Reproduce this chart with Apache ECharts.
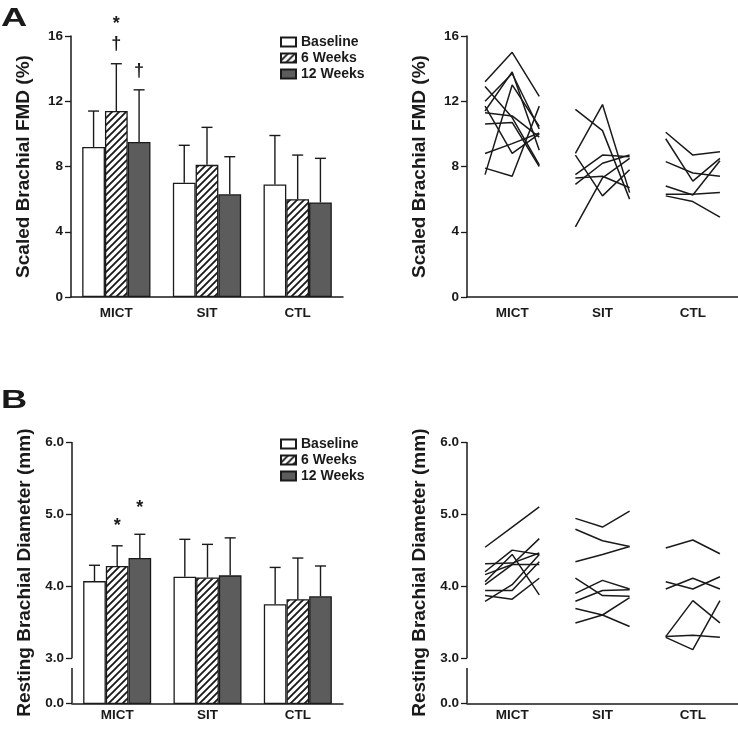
<!DOCTYPE html>
<html><head><meta charset="utf-8">
<script src="https://cdn.jsdelivr.net/npm/echarts@6/dist/echarts.min.js"></script>
<style>html,body{margin:0;padding:0;background:#fff}#c{width:738px;height:729px}</style>
</head><body><div id="c"></div>
<script>
// ---------- DATA ----------
const groups = ['MICT', 'SIT', 'CTL'];
const timepoints = ['Baseline', '6 Weeks', '12 Weeks'];

// Panel A: scaled brachial FMD (%) — mean and SD (upper whisker)
const fmdBaselineMean = [9.2, 7.0, 6.9];
const fmd6wkMean      = [11.4, 8.1, 6.0];
const fmd12wkMean     = [9.5, 6.3, 5.8];
const fmdBaselineSD   = [2.2, 2.3, 3.0];
const fmd6wkSD        = [2.9, 2.3, 2.7];
const fmd12wkSD       = [3.2, 2.3, 2.7];

// Panel B: resting brachial diameter (mm)
const diamBaselineMean = [4.07, 4.13, 3.75];
const diam6wkMean      = [4.28, 4.12, 3.82];
const diam12wkMean     = [4.39, 4.15, 3.86];
const diamBaselineSD   = [0.22, 0.52, 0.51];
const diam6wkSD        = [0.28, 0.46, 0.57];
const diam12wkSD       = [0.33, 0.52, 0.42];

// Individual responses [baseline, 6 wk, 12 wk]
const fmdMICT = [
  [13.2, 15.0, 12.3], [12.9, 11.0, 8.1], [12.0, 13.7, 10.3], [11.7, 8.8, 10.0],
  [11.4, 13.8, 9.0], [11.3, 11.1, 9.8], [10.6, 10.7, 8.0], [8.8, 9.4, 10.05],
  [7.9, 7.4, 11.7], [7.5, 13.0, 10.45]
];
const fmdSIT = [
  [11.5, 10.2, 6.0], [8.8, 11.8, 6.4], [8.7, 6.2, 7.8], [7.5, 8.7, 8.6],
  [7.3, 7.4, 6.7], [6.9, 8.2, 8.7], [4.3, 7.3, 8.5]
];
const fmdCTL = [
  [10.1, 8.7, 8.9], [9.7, 7.1, 8.5], [8.3, 7.6, 7.4], [6.8, 6.25, 8.35],
  [6.3, 6.3, 6.4], [6.2, 5.85, 4.9]
];
const diamMICT = [
  [4.54, 4.82, 5.10], [4.31, 4.32, 4.46], [4.20, 4.50, 4.44], [4.16, 4.30, 4.66],
  [4.06, 4.44, 3.88], [4.02, 4.30, 4.30], [3.94, 3.94, 4.34], [3.87, 3.82, 4.11],
  [3.79, 4.02, 4.44]
];
const diamSIT = [
  [4.94, 4.82, 5.04], [4.79, 4.63, 4.55], [4.34, 4.44, 4.55], [4.11, 3.87, 3.86],
  [3.90, 4.08, 3.96], [3.79, 3.94, 3.95], [3.69, 3.60, 3.44], [3.49, 3.60, 3.84]
];
const diamCTL = [
  [4.53, 4.64, 4.45], [4.06, 3.96, 4.13], [3.96, 4.11, 3.96],
  [3.30, 3.80, 3.49], [3.29, 3.12, 3.80], [3.30, 3.32, 3.29]
];

// Significance marks: [group index, timepoint index, symbol]
const annotA = [[0, 1, '†'], [0, 1, '*'], [0, 2, '†']];
const annotB = [[0, 1, '*'], [0, 2, '*']];

// Tick labels
const fmdTicks = [0, 4, 8, 12, 16];
const diamTicks = [3, 4, 5, 6];

// ---------- STYLE / LAYOUT ----------
const FONT = "'Liberation Sans', Arial, Helvetica, sans-serif";
const INK = '#1a1a1a';
const DARK = '#5c5c5c';
const CAT_GAP = 0.247;
const timeOffsets = [-0.3, 0, 0.3];
const diamMin = 2.375;       // axis bottom, labelled 0.0
const breakTop = 3.0, breakBottom = 2.865;
const annotOffA = [20, 44, 19];
const annotOffB = [24, 30];

function hatch() {
  const s = 7, c = document.createElement('canvas');
  c.width = s; c.height = s;
  const x = c.getContext('2d');
  x.fillStyle = '#fff'; x.fillRect(0, 0, s, s);
  x.strokeStyle = INK; x.lineWidth = 1.9; x.lineCap = 'square';
  x.beginPath();
  x.moveTo(-1, s + 1); x.lineTo(s + 1, -1);
  x.moveTo(-1, 1); x.lineTo(1, -1);
  x.moveTo(s - 1, s + 1); x.lineTo(s + 1, s - 1);
  x.stroke();
  return c;
}
const hatchImg = hatch();
const barStyles = [
  { color: '#fff', borderColor: INK, borderWidth: 1.3 },
  { color: { image: hatchImg, repeat: 'repeat' }, borderColor: INK, borderWidth: 1.3 },
  { color: DARK, borderColor: INK, borderWidth: 1.3 }
];

const grids = [
  { left: 71, top: 36, width: 272, height: 261 },
  { left: 467, top: 36, width: 273, height: 261 },
  { left: 72, top: 442, width: 271, height: 261.3 },
  { left: 467, top: 442, width: 273, height: 261.3 }
];

const labelStyle = { fontFamily: FONT, fontWeight: 'bold', fontSize: 13.5, color: INK };
function catAxis(grid, margin) {
  return {
    type: 'category', gridIndex: grid, data: groups, boundaryGap: true,
    axisLine: { onZero: false, lineStyle: { color: INK, width: 1.5 } },
    axisTick: { show: false },
    axisLabel: Object.assign({ margin: margin }, labelStyle)
  };
}
function valXAxis(grid) {
  return { type: 'value', gridIndex: grid, min: -0.5, max: 2.5, show: false };
}
const nameStyle = { fontFamily: FONT, fontWeight: 'bold', fontSize: 19, color: INK };
function fmdYAxis(grid) {
  return {
    type: 'value', gridIndex: grid, min: fmdTicks[0], max: fmdTicks[fmdTicks.length - 1], interval: 4,
    name: 'Scaled Brachial FMD (%)', nameLocation: 'middle', nameGap: 38, nameTextStyle: nameStyle,
    axisLine: { show: true, onZero: false, lineStyle: { color: INK, width: 1.5 } },
    axisTick: { show: true, length: 6, lineStyle: { color: INK, width: 1.3 } },
    axisLabel: Object.assign({ margin: 8 }, labelStyle),
    splitLine: { show: false }
  };
}
function diamYAxis(grid) {
  const vals = [diamMin].concat(diamTicks);
  return {
    type: 'value', gridIndex: grid, min: diamMin, max: diamTicks[diamTicks.length - 1],
    name: 'Resting Brachial Diameter (mm)', nameLocation: 'middle', nameGap: 38, nameTextStyle: nameStyle,
    axisLine: { show: false, onZero: false },
    axisTick: { show: true, length: 6, customValues: vals, lineStyle: { color: INK, width: 1.3 } },
    axisLabel: Object.assign({ margin: 8, customValues: vals,
      formatter: v => (v < breakBottom ? '0.0' : v.toFixed(1)) }, labelStyle),
    splitLine: { show: false }
  };
}

function barSeries(xi, yi, means) {
  return means.map((m, t) => ({
    type: 'bar', name: timepoints[t], xAxisIndex: xi, yAxisIndex: yi,
    data: m, barGap: '0%', barCategoryGap: (CAT_GAP * 100) + '%',
    itemStyle: barStyles[t], silent: true, z: 2
  }));
}
function errorSeries(xi, yi, means, sds) {
  const data = [];
  means.forEach((m, t) => m.forEach((v, g) => data.push([g, t, v, v + sds[t][g]])));
  return {
    type: 'custom', xAxisIndex: xi, yAxisIndex: yi, silent: true, z: 3,
    encode: { x: 0, y: [2, 3] }, data: data,
    renderItem: (p, api) => {
      const g = api.value(0), t = api.value(1);
      const band = api.size([1, 0])[0];
      const bw = band * (1 - CAT_GAP) / 3;
      const b = api.coord([g, api.value(2)]), top = api.coord([g, api.value(3)]);
      const x = b[0] + (t - 1) * bw;
      const st = { stroke: INK, lineWidth: 1.4 };
      return { type: 'group', children: [
        { type: 'line', shape: { x1: x, y1: b[1], x2: x, y2: top[1] }, style: st },
        { type: 'line', shape: { x1: x - 5.5, y1: top[1], x2: x + 5.5, y2: top[1] }, style: st }
      ] };
    }
  };
}
function annotSeries(xi, yi, means, sds, annots, offs) {
  const data = annots.map(a => [a[0], a[1], means[a[1]][a[0]] + sds[a[1]][a[0]]]);
  return {
    type: 'custom', xAxisIndex: xi, yAxisIndex: yi, silent: true, z: 4, clip: false,
    encode: { x: 0, y: 2 }, data: data,
    renderItem: (p, api) => {
      const g = api.value(0), t = api.value(1);
      const band = api.size([1, 0])[0];
      const bw = band * (1 - CAT_GAP) / 3;
      const c = api.coord([g, api.value(2)]);
      const sym = annots[p.dataIndex][2];
      const dy = offs[p.dataIndex] + (sym === '*' ? -4 : 0);
      return { type: 'text', x: c[0] + (t - 1) * bw, y: c[1] - dy,
        style: { text: sym, fill: INK, font: 'bold 18px ' + FONT, align: 'center', verticalAlign: 'middle' } };
    }
  };
}
function subjectSeries(xi, yi, rowsByGroup) {
  const out = [];
  rowsByGroup.forEach((rows, g) => rows.forEach(r => out.push({
    type: 'line', xAxisIndex: xi, yAxisIndex: yi, silent: true, symbol: 'none',
    lineStyle: { color: INK, width: 1.5 }, z: 2,
    data: r.map((v, t) => [g + timeOffsets[t], v])
  })));
  return out;
}
function brokenAxisLine(xi, yi) {
  return {
    type: 'lines', coordinateSystem: 'cartesian2d', xAxisIndex: xi, yAxisIndex: yi, silent: true, z: 5,
    lineStyle: { color: INK, width: 1.5, opacity: 1 },
    data: [
      { coords: [[-0.5, diamTicks[diamTicks.length - 1]], [-0.5, breakTop]] },
      { coords: [[-0.5, breakBottom], [-0.5, diamMin]] }
    ]
  };
}

const fmdMeans = [fmdBaselineMean, fmd6wkMean, fmd12wkMean];
const fmdSDs = [fmdBaselineSD, fmd6wkSD, fmd12wkSD];
const diamMeans = [diamBaselineMean, diam6wkMean, diam12wkMean];
const diamSDs = [diamBaselineSD, diam6wkSD, diam12wkSD];

function legendAt(top) {
  return {
    data: timepoints, orient: 'vertical', left: 275, top: top, icon: 'rect',
    itemWidth: 15, itemHeight: 9, itemGap: 2, selectedMode: false,
    textStyle: { fontFamily: FONT, fontWeight: 'bold', fontSize: 14, color: INK, lineHeight: 14 }
  };
}

const option = {
  animation: false,
  backgroundColor: '#fff',
  textStyle: { fontFamily: FONT },
  grid: grids,
  legend: [legendAt(30), legendAt(432)],
  xAxis: [catAxis(0, 9), catAxis(1, 9), valXAxis(1), catAxis(2, 5), valXAxis(2), catAxis(3, 5), valXAxis(3)],
  yAxis: [fmdYAxis(0), fmdYAxis(1), diamYAxis(2), diamYAxis(3)],
  graphic: [
    { type: 'text', left: 1, top: 7, scaleX: 1.45, style: { text: 'A', font: 'bold 25px ' + FONT, fill: INK } },
    { type: 'text', left: 1, top: 389, scaleX: 1.45, style: { text: 'B', font: 'bold 25px ' + FONT, fill: INK } }
  ],
  series: [].concat(
    barSeries(0, 0, fmdMeans),
    [errorSeries(0, 0, fmdMeans, fmdSDs), annotSeries(0, 0, fmdMeans, fmdSDs, annotA, annotOffA)],
    subjectSeries(2, 1, [fmdMICT, fmdSIT, fmdCTL]),
    barSeries(3, 2, diamMeans),
    [errorSeries(3, 2, diamMeans, diamSDs), annotSeries(3, 2, diamMeans, diamSDs, annotB, annotOffB),
     brokenAxisLine(4, 2)],
    subjectSeries(6, 3, [diamMICT, diamSIT, diamCTL]),
    [brokenAxisLine(6, 3)]
  )
};
const chart = echarts.init(document.getElementById('c'), null, { renderer: 'canvas' });
chart.setOption(option);
</script>
</body></html>
